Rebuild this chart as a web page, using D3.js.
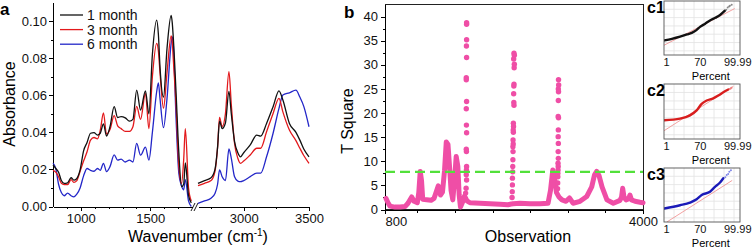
<!DOCTYPE html>
<html>
<head>
<meta charset="utf-8">
<script src="https://cdn.jsdelivr.net/npm/d3@7"></script>
<style>
    body { margin: 0; background: #fff; }
    svg { display: block; font-family: "Liberation Sans", Arial, sans-serif; }
    .axis path, .axis line { stroke: #000; stroke-width: 1; shape-rendering: crispEdges; }
    .axis text { font-family: "Liberation Sans", Arial, sans-serif; font-size: 13px; fill: #111; }
    .small text { font-size: 11px; }
</style>
</head>
<body>
<div id="chart"></div>
<script>
// ---------- Panel a: FTIR spectra ----------
const waveLow = [800, 820, 840, 860, 880, 905, 930, 950, 970, 995, 1020, 1045, 1070, 1095, 1120, 1140,
    1163, 1185, 1210, 1240, 1265, 1290, 1320, 1350, 1375, 1402, 1430, 1465, 1490, 1515, 1546, 1558,
    1570, 1595, 1620, 1650, 1658, 1665, 1685, 1705, 1725, 1740, 1752, 1775, 1795];
const absLow1 = [0.0224, 0.0205, 0.0185, 0.014, 0.0125, 0.0128, 0.0155, 0.0142, 0.015, 0.0197, 0.030, 0.0345,
    0.0395, 0.0398, 0.0385, 0.0395, 0.0445, 0.038, 0.043, 0.0538, 0.048, 0.0485, 0.0478, 0.046, 0.047,
    0.0628, 0.052, 0.0624, 0.050, 0.082, 0.1005, 0.093, 0.075, 0.059, 0.085, 0.103, 0.099, 0.0915, 0.062,
    0.0295, 0.0107, 0.012, 0.0235, 0.006, 0.002];
const absLow3 = [0.0195, 0.0185, 0.016, 0.0125, 0.0118, 0.0118, 0.0145, 0.013, 0.0138, 0.019, 0.0245, 0.0295,
    0.0358, 0.0372, 0.0365, 0.041, 0.0505, 0.039, 0.0415, 0.049, 0.0435, 0.042, 0.0405, 0.0405, 0.043,
    0.054, 0.047, 0.061, 0.042, 0.070, 0.088, 0.084, 0.072, 0.053, 0.072, 0.092, 0.089, 0.080, 0.055,
    0.022, 0.0125, 0.025, 0.042, 0.010, 0.003];
const absLow6 = [0.0234, 0.0205, 0.012, 0.0075, 0.0058, 0.0072, 0.0058, 0.0052, 0.0065, 0.010, 0.0165, 0.0205,
    0.0195, 0.019, 0.0205, 0.0195, 0.0233, 0.0188, 0.0215, 0.0278, 0.025, 0.0255, 0.024, 0.025, 0.024,
    0.034, 0.0277, 0.032, 0.025, 0.040, 0.062, 0.0667, 0.058, 0.0425, 0.058, 0.088, 0.0915, 0.088, 0.048,
    0.018, 0.011, 0.009, 0.0145, 0.003, 0.0];

const waveHigh = [2650, 2700, 2750, 2780, 2800, 2815, 2835, 2860, 2887, 2905, 2930, 2955, 2975, 3000, 3050,
    3100, 3130, 3175, 3225, 3270, 3300, 3350, 3400, 3430, 3460, 3500];
const absHigh1 = [0.0125, 0.014, 0.0155, 0.020, 0.032, 0.046, 0.042, 0.045, 0.062, 0.050, 0.035, 0.029, 0.0268,
    0.029, 0.0332, 0.0385, 0.038, 0.0448, 0.0538, 0.0624, 0.0574, 0.0448, 0.040, 0.0358, 0.031, 0.0268];
const absHigh3 = [0.0112, 0.0125, 0.014, 0.019, 0.032, 0.048, 0.043, 0.050, 0.0727, 0.055, 0.034, 0.026, 0.0233,
    0.0245, 0.0278, 0.0314, 0.0314, 0.0403, 0.0502, 0.0583, 0.051, 0.0412, 0.0355, 0.0314, 0.0275, 0.0233];
const absHigh6 = [0.0017, 0.003, 0.0045, 0.007, 0.012, 0.0197, 0.016, 0.014, 0.031, 0.026, 0.016, 0.0137, 0.0134,
    0.014, 0.0161, 0.018, 0.018, 0.0268, 0.0395, 0.0529, 0.0601, 0.0613, 0.0628, 0.059, 0.054, 0.043];

const legendLabels = ['1 month', '3 month', '6 month'];
const seriesColors = ['#111111', '#e3191c', '#2326c8'];
const absTicks = [0, 0.02, 0.04, 0.06, 0.08, 0.10];
const absMinor = [0.01, 0.03, 0.05, 0.07, 0.09];
const waveTicksLow = [1000, 1500];
const waveMinorLow = [900, 1100, 1200, 1300, 1400, 1600, 1700];
const waveTicksHigh = [3000, 3500];
const waveMinorHigh = [2750, 3250];

// ---------- Panel b: T square ----------
const lineObs = [812, 837, 862, 924, 986, 1048, 1085, 1131, 1160, 1201, 1219, 1237, 1253, 1268, 1317, 1371,
    1408, 1439, 1461, 1488, 1513, 1538, 1560, 1581, 1600, 1619, 1641, 1662, 1683, 1703, 1720, 1736, 1761,
    1786, 1817, 1854, 1978, 2102, 2226, 2325, 2388, 2474, 2598, 2722, 2822, 2853, 2881, 2902, 2927, 2958,
    2995, 3045, 3088, 3132, 3219, 3302, 3364, 3399, 3426, 3455, 3492, 3553, 3632, 3715, 3734, 3748, 3764,
    3789, 3820, 3838, 3857, 3901, 3963, 4000];
const lineT = [2.3, 1.4, 0.7, 0.5, 0.5, 0.6, 1.3, 2.6, 1.7, 1.4, 3.5, 7.9, 6.0, 2.1, 2.0, 1.9,
    2.3, 3.8, 4.9, 3.0, 3.6, 8.0, 14.0, 13.5, 9.0, 4.0, 2.0, 6.0, 11.0, 9.0, 3.0, 0.5, 1.5,
    2.8, 1.8, 1.4, 1.3, 1.2, 1.1, 1.0, 1.2, 1.3, 1.2, 1.2, 1.3, 4.0, 8.2, 6.5, 3.5, 2.6,
    2.0, 1.7, 2.4, 1.3, 1.7, 2.7, 4.7, 7.2, 7.9, 7.0, 4.7, 2.0, 1.3, 1.9, 2.6, 4.4, 2.6,
    2.0, 2.2, 3.0, 2.0, 1.7, 1.5, 1.4];

const col1Obs = [1812, 1812, 1812, 1810, 1812, 1808, 1808, 1812, 1808, 1810, 1812, 1808, 1810, 1812, 1810, 1808, 1812, 1806, 1800];
const col1T = [38.7, 38.4, 35.2, 33.9, 31.5, 27.3, 26.9, 22.4, 20.9, 17.5, 15.9, 12.5, 12.0, 8.9, 8.2, 7.2, 6.1, 4.4, 3.4];
const col2Obs = [2400, 2404, 2396, 2404, 2402, 2400, 2398, 2396, 2398, 2400, 2392, 2394, 2390, 2392, 2388, 2390,
    2386, 2388, 2386, 2384, 2384, 2380, 2380, 2378, 2376];
const col2T = [32.4, 32.0, 31.2, 30.1, 29.4, 26.0, 25.6, 24.0, 22.2, 21.6, 17.9, 17.2, 16.5, 16.0, 14.4, 13.6,
    13.0, 12.0, 10.3, 8.9, 7.8, 6.5, 5.1, 3.7, 2.5];
const col3Obs = [2952, 2954, 2950, 2952, 2950, 2948, 2952, 2950, 2948, 2950, 2948, 2950, 2946, 2948, 2946, 2944, 2944, 2942, 2940];
const col3T = [26.9, 25.8, 25.0, 24.4, 22.6, 19.3, 19.0, 16.5, 15.1, 13.7, 12.0, 10.6, 9.6, 8.9, 8.2, 7.5, 6.8, 5.5, 4.3];

const tTicks = [0, 5, 10, 15, 20, 25, 30, 35, 40];
const tMinor = [2.5, 7.5, 12.5, 17.5, 22.5, 27.5, 32.5, 37.5];
const obsTicks = [800, 4000];
const obsMinor = [1200, 1670, 2140, 2600, 3070, 3530];
const tLimit = 7.8;

// ---------- Panel c: normal probability plots (x in z-scores) ----------
const pctZ = [-2.326, 0.524, 3.719];
const pctLabels = ['1', '70', '99.99'];

const c1Z = [-2.3, -1.7, -1.05, -0.5, -0.12, 0.25, 0.54, 0.95, 1.33, 1.75, 2.13, 2.52];
const c1V = [0.27, 0.30, 0.34, 0.38, 0.41, 0.46, 0.52, 0.58, 0.64, 0.69, 0.74, 0.82];
const c1TailZ = [2.62, 2.74, 2.85, 2.92, 3.06];
const c1TailV = [0.84, 0.88, 0.90, 0.91, 0.93];
const c1RefZ = [-2.326, 3.3];
const c1RefV = [0.18, 0.86];

const c2Z = [-2.3, -1.05, -0.26, 0.27, 0.67, 1.07, 1.59, 1.99, 2.39, 2.79];
const c2V = [0.34, 0.37, 0.43, 0.52, 0.64, 0.70, 0.74, 0.79, 0.85, 0.90];
const c2TailZ = [2.9, 2.98, 3.05];
const c2TailV = [0.91, 0.92, 0.93];
const c2RefZ = [-2.326, 3.2];
const c2RefV = [0.15, 0.96];

const c3Z = [-2.3, -1.05, -0.26, 0.27, 0.67, 1.33, 1.73, 2.13, 2.39];
const c3V = [0.25, 0.31, 0.36, 0.42, 0.50, 0.56, 0.65, 0.73, 0.81];
const c3TailZ = [2.55, 2.66, 2.78, 2.87, 3.0];
const c3TailV = [0.83, 0.87, 0.89, 0.93, 0.96];
const c3RefZ = [-2.1, 3.1];
const c3RefV = [0.0, 0.77];


const svgWidth = 752;
const svgHeight = 249;

var svg = d3.select('#chart')
    .append('svg')
    .attr('width', svgWidth)
    .attr('height', svgHeight);

svg.append('rect').attr('width', svgWidth).attr('height', svgHeight).attr('fill', '#fff');

// ================= Panel a =================
var xLow = d3.scaleLinear().domain([800, 1800]).range([53, 192]);
var xHigh = d3.scaleLinear().domain([2650, 3500]).range([198, 309]);
var yA = d3.scaleLinear().domain([0, 0.11]).range([206.5, 2.5]);

var gA = svg.append('g').attr('class', 'panel-a');

// y axis
gA.append('g')
    .attr('class', 'axis')
    .attr('transform', 'translate(53,0)')
    .call(d3.axisLeft(yA).tickValues(absTicks).tickFormat(d3.format('.2f')).tickSize(4).tickPadding(2).tickSizeOuter(0));
gA.append('g')
    .attr('class', 'axis')
    .attr('transform', 'translate(53,0)')
    .call(d3.axisLeft(yA).tickValues(absMinor).tickFormat('').tickSize(2))
    .select('.domain').remove();

// x axis, broken in two pieces
var xAxisY = 207;
gA.append('g')
    .attr('class', 'axis')
    .attr('transform', 'translate(0,' + xAxisY + ')')
    .call(d3.axisBottom(xLow).tickValues(waveTicksLow).tickFormat(d3.format('d')).tickSize(4).tickPadding(3).tickSizeOuter(0));
gA.append('g')
    .attr('class', 'axis')
    .attr('transform', 'translate(0,' + xAxisY + ')')
    .call(d3.axisBottom(xLow).tickValues(waveMinorLow).tickFormat('').tickSize(2))
    .select('.domain').remove();
gA.append('g')
    .attr('class', 'axis')
    .attr('transform', 'translate(0,' + xAxisY + ')')
    .call(d3.axisBottom(xHigh).tickValues(waveTicksHigh).tickFormat(d3.format('d')).tickSize(4).tickPadding(3).tickSizeOuter(0));
gA.append('g')
    .attr('class', 'axis')
    .attr('transform', 'translate(0,' + xAxisY + ')')
    .call(d3.axisBottom(xHigh).tickValues(waveMinorHigh).tickFormat('').tickSize(2))
    .select('.domain').remove();

// break marks
[xLow.range()[1] + 1, xHigh.range()[0] - 2].forEach(bx => {
    gA.append('line')
        .attr('x1', bx - 2).attr('y1', xAxisY + 4)
        .attr('x2', bx + 2).attr('y2', xAxisY - 4)
        .attr('stroke', '#000').attr('stroke-width', 0.9);
});

// spectra
var lowSeries = [absLow1, absLow3, absLow6];
var highSeries = [absHigh1, absHigh3, absHigh6];

var lineLow = d3.line()
    .x((d, i) => xLow(waveLow[i]))
    .y(d => yA(d))
    .curve(d3.curveMonotoneX);
var lineHigh = d3.line()
    .x((d, i) => xHigh(waveHigh[i]))
    .y(d => yA(d))
    .curve(d3.curveMonotoneX);

[2, 1, 0].forEach(k => {
    gA.append('path')
        .attr('d', lineLow(lowSeries[k]))
        .attr('fill', 'none')
        .attr('stroke', seriesColors[k])
        .attr('stroke-width', 1.3);
    gA.append('path')
        .attr('d', lineHigh(highSeries[k]))
        .attr('fill', 'none')
        .attr('stroke', seriesColors[k])
        .attr('stroke-width', 1.3);
});

// legend
var legend = gA.append('g').attr('class', 'legend');
legendLabels.forEach((lab, i) => {
    var ly = 15 + i * 14.6;
    legend.append('line')
        .attr('x1', 60).attr('x2', 83)
        .attr('y1', ly).attr('y2', ly)
        .attr('stroke', seriesColors[i])
        .attr('stroke-width', 1.3);
    legend.append('text')
        .attr('x', 87).attr('y', ly + 5)
        .style('font-size', '14px')
        .style('fill', '#111')
        .text(lab);
});

// titles
gA.append('text')
    .attr('transform', 'translate(15,104) rotate(-90)')
    .style('text-anchor', 'middle')
    .style('font-size', '16px')
    .text('Absorbance');

var wavTitle = gA.append('text')
    .attr('x', 198).attr('y', 242)
    .style('text-anchor', 'middle')
    .style('font-size', '16px');
wavTitle.append('tspan').text('Wavenumber (cm');
wavTitle.append('tspan').attr('dy', -6).style('font-size', '10px').text('-1');
wavTitle.append('tspan').attr('dy', 6).text(')');

svg.append('text')
    .attr('x', 0).attr('y', 15)
    .style('font-size', '17px').style('font-weight', 'bold')
    .text('a');

// ================= Panel b =================
var xB = d3.scaleLinear().domain([800, 4000]).range([385, 643]);
var yB = d3.scaleLinear().domain([0, 42.6]).range([209.5, 4]);
var gB = svg.append('g').attr('class', 'panel-b');
var pink = '#ef4ea6';

// frame
gB.append('rect')
    .attr('x', xB.range()[0]).attr('y', yB.range()[1])
    .attr('width', xB.range()[1] - xB.range()[0])
    .attr('height', yB.range()[0] - yB.range()[1])
    .attr('fill', 'none').attr('stroke', '#222').attr('stroke-width', 1)
    .attr('shape-rendering', 'crispEdges');

gB.append('g')
    .attr('class', 'axis')
    .attr('transform', 'translate(385,0)')
    .call(d3.axisLeft(yB).tickValues(tTicks).tickSize(4).tickPadding(3).tickSizeOuter(0));
gB.append('g')
    .attr('class', 'axis')
    .attr('transform', 'translate(385,0)')
    .call(d3.axisLeft(yB).tickValues(tMinor).tickFormat('').tickSize(2))
    .select('.domain').remove();
gB.append('g')
    .attr('class', 'axis')
    .attr('transform', 'translate(0,209.5)')
    .call(d3.axisBottom(xB).tickValues(obsTicks).tickFormat(d3.format('d')).tickSize(4).tickPadding(3).tickSizeOuter(0))
    .call(a => a.selectAll('.tick text').filter(d => d === obsTicks[0]).style('text-anchor', 'start'));
gB.append('g')
    .attr('class', 'axis')
    .attr('transform', 'translate(0,209.5)')
    .call(d3.axisBottom(xB).tickValues(obsMinor).tickFormat('').tickSize(3))
    .select('.domain').remove();

// dense run of observations
gB.append('path')
    .attr('d', d3.line().x((d, i) => xB(lineObs[i])).y(d => yB(d))(lineT))
    .attr('fill', 'none')
    .attr('stroke', pink)
    .attr('stroke-width', 5)
    .attr('stroke-linejoin', 'round')
    .attr('stroke-linecap', 'round');

// isolated observations
var dots = [];
[[col1Obs, col1T], [col2Obs, col2T], [col3Obs, col3T]].forEach(([o, t]) => {
    o.forEach((v, i) => dots.push({ obs: v, t: t[i] }));
});
gB.append('g')
    .selectAll('circle')
    .data(dots)
    .join('circle')
    .attr('cx', d => xB(d.obs))
    .attr('cy', d => yB(d.t))
    .attr('r', 2.7)
    .attr('fill', pink);

// control limit
gB.append('line')
    .attr('x1', xB.range()[0]).attr('x2', xB.range()[1])
    .attr('y1', yB(tLimit)).attr('y2', yB(tLimit))
    .attr('stroke', '#52e03a')
    .attr('stroke-width', 2.2)
    .attr('stroke-dasharray', '10,5');

gB.append('text')
    .attr('transform', 'translate(353,121) rotate(-90)')
    .style('text-anchor', 'middle')
    .style('font-size', '16px')
    .text('T Square');
gB.append('text')
    .attr('x', 528).attr('y', 242)
    .style('text-anchor', 'middle')
    .style('font-size', '16px')
    .text('Observation');
svg.append('text')
    .attr('x', 344).attr('y', 18)
    .style('font-size', '17px').style('font-weight', 'bold')
    .text('b');

// ================= Panel c =================
var xC = d3.scaleLinear().domain([-2.326, 3.719]).range([664, 740]);

function drawProb(label, top, bottom, color, tailColor, zs, vs, tz, tv, rz, rv) {
    var yC = d3.scaleLinear().domain([0, 1]).range([bottom, top]);
    var g = svg.append('g');
    var clipId = 'clip-' + label;
    g.append('clipPath').attr('id', clipId)
        .append('rect')
        .attr('x', xC.range()[0]).attr('y', top)
        .attr('width', xC.range()[1] - xC.range()[0]).attr('height', bottom - top);

    // grid
    var gridX = d3.range(1, 8).map(k => xC.range()[0] + k * (xC.range()[1] - xC.range()[0]) / 7.6);
    var gridY = d3.range(1, 7).map(k => top + k * (bottom - top) / 6.5);
    g.selectAll('.gx').data(gridX).join('line')
        .attr('x1', d => d).attr('x2', d => d).attr('y1', top).attr('y2', bottom)
        .attr('stroke', '#e2e2e2').attr('stroke-width', 0.8);
    g.selectAll('.gy').data(gridY).join('line')
        .attr('y1', d => d).attr('y2', d => d).attr('x1', xC.range()[0]).attr('x2', xC.range()[1])
        .attr('stroke', '#e2e2e2').attr('stroke-width', 0.8);

    var inner = g.append('g').attr('clip-path', 'url(#' + clipId + ')');
    inner.append('path')
        .attr('d', d3.line().x((d, i) => xC(rz[i])).y(d => yC(d))(rv))
        .attr('fill', 'none').attr('stroke', '#f08a8a').attr('stroke-width', 0.8);
    inner.append('path')
        .attr('d', d3.line().x((d, i) => xC(zs[i])).y(d => yC(d)).curve(d3.curveMonotoneX)(vs))
        .attr('fill', 'none').attr('stroke', color).attr('stroke-width', 2.4)
        .attr('stroke-linecap', 'round');
    inner.selectAll('.tail').data(tz).join('circle')
        .attr('cx', d => xC(d))
        .attr('cy', (d, i) => yC(tv[i]))
        .attr('r', 1)
        .attr('fill', tailColor);

    g.append('rect')
        .attr('x', xC.range()[0]).attr('y', top)
        .attr('width', xC.range()[1] - xC.range()[0]).attr('height', bottom - top)
        .attr('fill', 'none').attr('stroke', '#555').attr('stroke-width', 0.9);

    g.append('g')
        .attr('class', 'axis small')
        .attr('transform', 'translate(0,' + bottom + ')')
        .call(d3.axisBottom(xC).tickValues(pctZ).tickFormat((d, i) => pctLabels[i]).tickSize(0).tickPadding(3))
        .call(a => a.select('.domain').remove())
        .call(a => a.selectAll('.tick text').filter(d => d === pctZ[2]).style('text-anchor', 'end').attr('x', 11))
        .call(a => a.selectAll('.tick text').filter(d => d === pctZ[0]).style('text-anchor', 'start').attr('x', -1));

    g.append('text')
        .attr('x', xC(0.524) + 11).attr('y', bottom + 25)
        .style('text-anchor', 'middle')
        .style('font-size', '11px')
        .text('Percent');

    svg.append('text')
        .attr('x', 647).attr('y', top + 12)
        .style('font-size', '16px').style('font-weight', 'bold')
        .text(label);
}

drawProb('c1', 1, 55, '#111', '#888', c1Z, c1V, c1TailZ, c1TailV, c1RefZ, c1RefV);
drawProb('c2', 84, 139, '#d81e1e', '#f08080', c2Z, c2V, c2TailZ, c2TailV, c2RefZ, c2RefV);
drawProb('c3', 168, 222, '#1a1ab8', '#7f86e6', c3Z, c3V, c3TailZ, c3TailV, c3RefZ, c3RefV);
</script>
</body>
</html>
